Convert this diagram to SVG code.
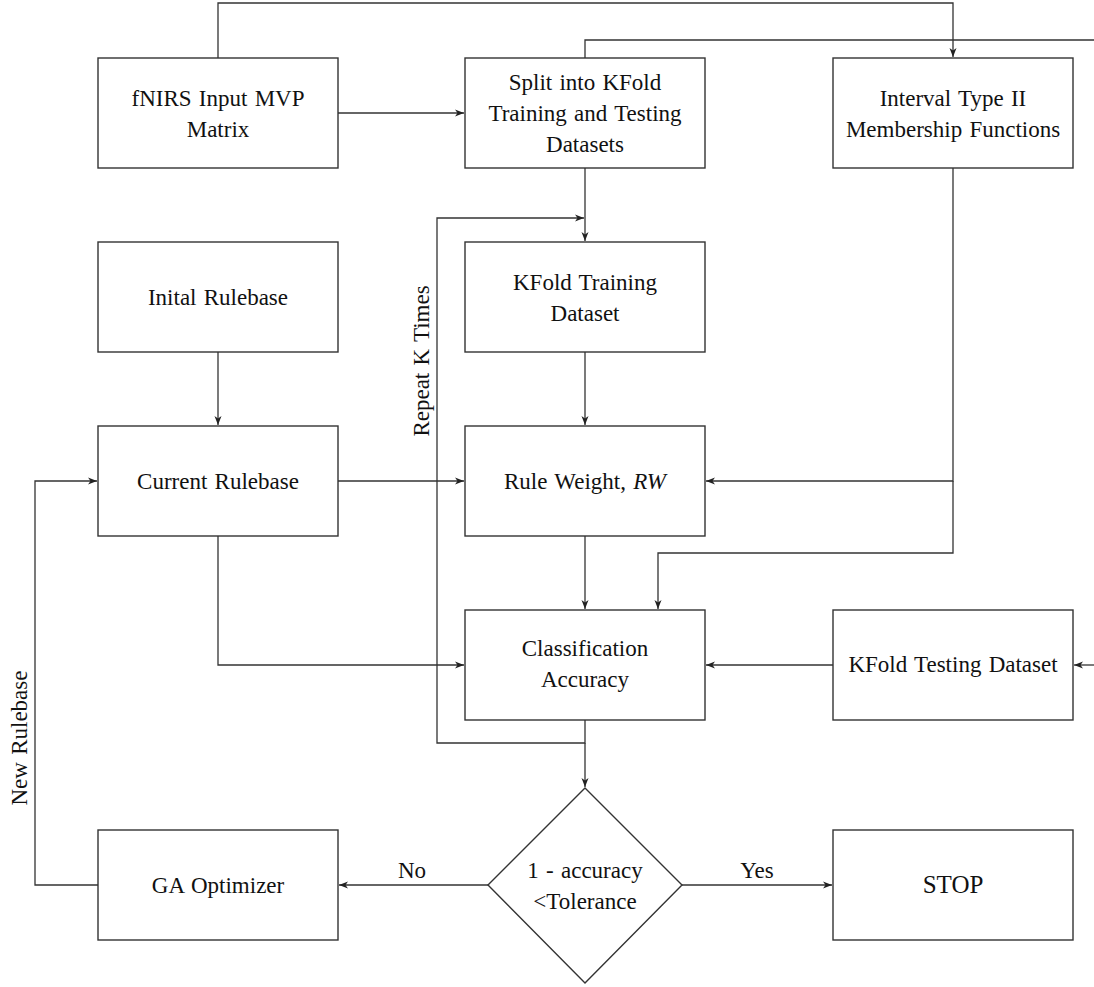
<svg xmlns="http://www.w3.org/2000/svg" width="1094" height="987" viewBox="0 0 1094 987">
<defs>
<style>
.box{fill:#fff;stroke:#333;stroke-width:1.4}
.ln{fill:none;stroke:#333;stroke-width:1.3}
text{font-family:'Liberation Serif','Times New Roman',serif;font-size:23px;fill:#111;text-anchor:middle;word-spacing:1.5px}
</style>
<marker id="ah" markerWidth="10" markerHeight="8" refX="9" refY="4" orient="auto" markerUnits="userSpaceOnUse">
<path d="M0,0.5 L9,4 L0,7.5 L2.5,4 Z" fill="#222"/>
</marker>
</defs>
<rect width="1094" height="987" fill="#fff"/>
<g id="connectors">
<path class="ln" d="M218,58 V3 H953 V57" marker-end="url(#ah)"/>
<path class="ln" d="M585,58 V40 H1100"/>
<path class="ln" d="M338,113 H464" marker-end="url(#ah)"/>
<path class="ln" d="M585,168 V241" marker-end="url(#ah)"/>
<path class="ln" d="M585,720 V743 H437 V218 H584" marker-end="url(#ah)"/>
<path class="ln" d="M585,352 V425" marker-end="url(#ah)"/>
<path class="ln" d="M218,352 V425" marker-end="url(#ah)"/>
<path class="ln" d="M338,481 H464" marker-end="url(#ah)"/>
<path class="ln" d="M953,168 V481 H706" marker-end="url(#ah)"/>
<path class="ln" d="M953,481 V553 H658 V609" marker-end="url(#ah)"/>
<path class="ln" d="M585,536 V609" marker-end="url(#ah)"/>
<path class="ln" d="M218,536 V665 H464" marker-end="url(#ah)"/>
<path class="ln" d="M833,665 H706" marker-end="url(#ah)"/>
<path class="ln" d="M1100,665 H1074" marker-end="url(#ah)"/>
<path class="ln" d="M585,743 V787" marker-end="url(#ah)"/>
<path class="ln" d="M488,885 H339" marker-end="url(#ah)"/>
<path class="ln" d="M682,885 H832" marker-end="url(#ah)"/>
<path class="ln" d="M98,885 H35 V481 H97" marker-end="url(#ah)"/>
<text x="412" y="878">No</text>
<text x="757" y="878">Yes</text>
<text transform="translate(429,361) rotate(-90)">Repeat K Times</text>
<text transform="translate(27,738) rotate(-90)">New Rulebase</text>
</g>
<g id="fnirs"><rect class="box" x="98" y="58" width="240" height="110"/><text x="218" y="106">fNIRS Input MVP</text><text x="218" y="137">Matrix</text></g>
<g id="split"><rect class="box" x="465" y="58" width="240" height="110"/><text x="585" y="90">Split into KFold</text><text x="585" y="121">Training and Testing</text><text x="585" y="152">Datasets</text></g>
<g id="interval"><rect class="box" x="833" y="58" width="240" height="110"/><text x="953" y="106">Interval Type II</text><text x="953" y="137">Membership Functions</text></g>
<g id="initial"><rect class="box" x="98" y="242" width="240" height="110"/><text x="218" y="305">Inital Rulebase</text></g>
<g id="training"><rect class="box" x="465" y="242" width="240" height="110"/><text x="585" y="290">KFold Training</text><text x="585" y="321">Dataset</text></g>
<g id="current"><rect class="box" x="98" y="426" width="240" height="110"/><text x="218" y="489">Current Rulebase</text></g>
<g id="ruleweight"><rect class="box" x="465" y="426" width="240" height="110"/><text x="585" y="489">Rule Weight, <tspan font-style="italic">RW</tspan></text></g>
<g id="classification"><rect class="box" x="465" y="610" width="240" height="110"/><text x="585" y="656">Classification</text><text x="585" y="687">Accuracy</text></g>
<g id="testing"><rect class="box" x="833" y="610" width="240" height="110"/><text x="953" y="672">KFold Testing Dataset</text></g>
<g id="ga"><rect class="box" x="98" y="830" width="240" height="110"/><text x="218" y="893">GA Optimizer</text></g>
<g id="decision"><polygon class="box" points="585,788 682,885 585,983 488,885"/><text x="585" y="878">1 - accuracy</text><text x="585" y="909">&lt;Tolerance</text></g>
<g id="stop"><rect class="box" x="833" y="830" width="240" height="110"/><text x="953" y="893" style="font-size:25px">STOP</text></g>
</svg>
